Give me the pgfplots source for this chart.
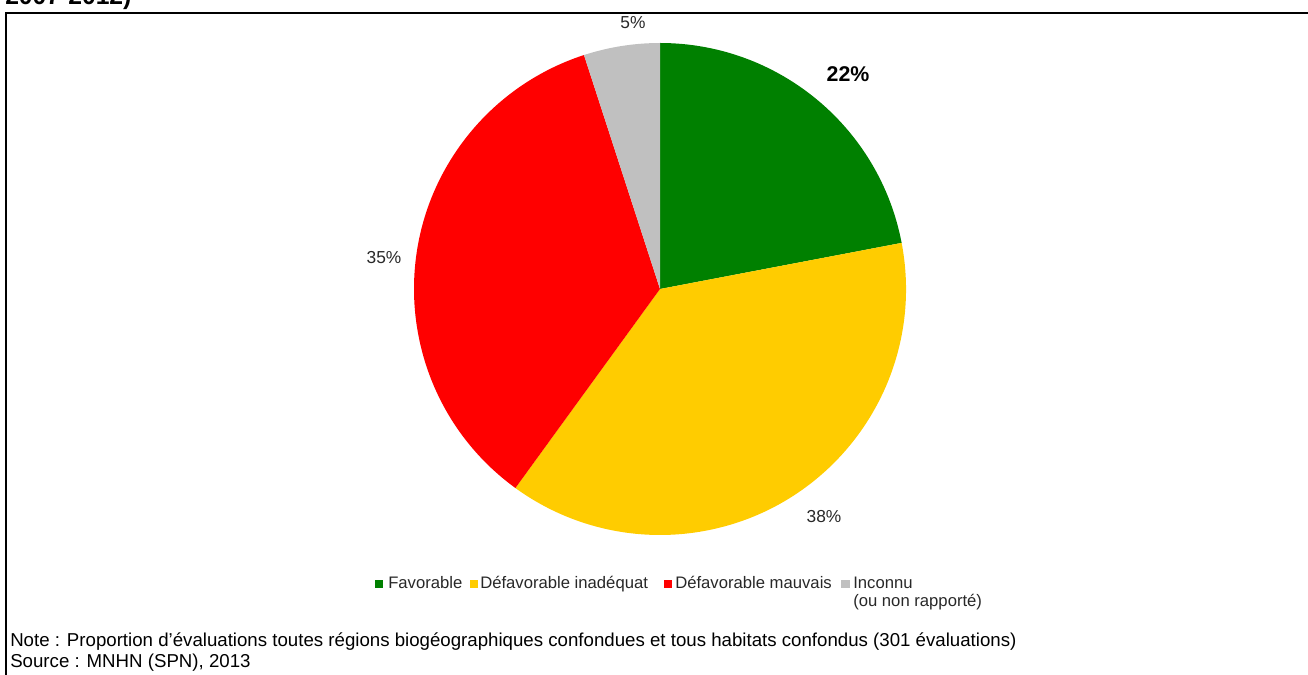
\documentclass[border=0pt]{standalone}
\usepackage{pgfplots}
\usepackage{pgfplotstable}
\pgfplotsset{compat=1.18}
\usepackage{fontspec}
\setmainfont{Liberation Sans}
\definecolor{cfav}{RGB}{0,128,0}
\definecolor{cinad}{RGB}{255,204,0}
\definecolor{cmauv}{RGB}{255,0,0}
\definecolor{cinc}{RGB}{192,192,192}
\definecolor{ctxt}{RGB}{40,40,40}

\pgfplotstableread{
label value
Favorable 22
Inadequat 38
Mauvais 35
Inconnu 5
}\piedata

\pgfplotstablegetelem{0}{value}\of\piedata \let\vA\pgfplotsretval
\pgfplotstablegetelem{1}{value}\of\piedata \let\vB\pgfplotsretval
\pgfplotstablegetelem{2}{value}\of\piedata \let\vC\pgfplotsretval
\pgfplotstablegetelem{3}{value}\of\piedata \let\vD\pgfplotsretval
\pgfmathsetmacro{\aA}{90}
\pgfmathsetmacro{\aB}{\aA-3.6*\vA}
\pgfmathsetmacro{\aC}{\aB-3.6*\vB}
\pgfmathsetmacro{\aD}{\aC-3.6*\vC}
\pgfmathsetmacro{\aE}{\aD-3.6*\vD}
\def\cx{660}
\def\cy{-289}
\def\R{246}

\newcommand{\slice}[3]{%
  \fill[#3] (axis cs:\cx,\cy) -- (axis cs:{\cx+\R*cos(#1)},{\cy+\R*sin(#1)})
    arc[start angle=#1, end angle=#2, radius=\R*0.75pt] -- cycle;}

\begin{document}
\begin{tikzpicture}
\begin{axis}[
  at={(0,0)}, anchor=south west,
  scale only axis, width=981pt, height=506.25pt,
  xmin=0, xmax=1308, ymin=-675, ymax=0,
  hide axis, clip=false]
\coordinate (BL) at (rel axis cs:0,0);
\coordinate (TR) at (rel axis cs:1,1);
% title (cut off)
\node[anchor=base west, inner sep=0pt, font=\fontsize{18.5}{21}\selectfont\bfseries] at (axis cs:5,-5) {2007-2012)};
% frame
\draw[line width=1.5pt] (axis cs:6,-700) -- (axis cs:6,-13) -- (axis cs:1320,-13);
% pie
\slice{\aA}{\aB}{cfav}
\slice{\aB}{\aC}{cinad}
\slice{\aC}{\aD}{cmauv}
\slice{\aD}{\aE}{cinc}
% labels
\node[ctxt, font=\fontsize{13}{15}\selectfont] at (axis cs:633,-23) {\vD\%};
\node[black, font=\fontsize{16}{18}\selectfont\bfseries] at (axis cs:848,-74) {\vA\%};
\node[ctxt, font=\fontsize{13}{15}\selectfont] at (axis cs:384,-258) {\vC\%};
\node[ctxt, font=\fontsize{13}{15}\selectfont] at (axis cs:824,-517) {\vB\%};
% legend
\fill[cfav] (axis cs:375,-580) rectangle (axis cs:383,-588);
\node[ctxt, anchor=base west, inner sep=0pt, font=\fontsize{12.5}{14}\selectfont] at (axis cs:388,-589) {Favorable};
\fill[cinad] (axis cs:470,-580) rectangle (axis cs:478,-588);
\node[ctxt, anchor=base west, inner sep=0pt, font=\fontsize{12.5}{14}\selectfont] at (axis cs:480,-589) {Défavorable inadéquat};
\fill[cmauv] (axis cs:664,-580) rectangle (axis cs:672,-588);
\node[ctxt, anchor=base west, inner sep=0pt, font=\fontsize{12.5}{14}\selectfont] at (axis cs:675,-589) {Défavorable mauvais};
\fill[cinc] (axis cs:841,-580) rectangle (axis cs:850,-588);
\node[ctxt, anchor=base west, inner sep=0pt, font=\fontsize{12.5}{14}\selectfont] at (axis cs:853,-589) {Inconnu};
\node[ctxt, anchor=base west, inner sep=0pt, font=\fontsize{12.5}{14}\selectfont] at (axis cs:853,-607) {(ou non rapporté)};
% note
\node[black, anchor=base west, inner sep=0pt, font=\fontsize{14}{16}\selectfont] at (axis cs:10,-647) {Note : Proportion d’évaluations toutes régions biogéographiques confondues et tous habitats confondus (301 évaluations)};
\node[black, anchor=base west, inner sep=0pt, font=\fontsize{14}{16}\selectfont] at (axis cs:10,-668) {Source : MNHN (SPN), 2013};
\end{axis}
\pgfresetboundingbox
\path[use as bounding box] (BL) rectangle (TR);
\end{tikzpicture}
\end{document}
